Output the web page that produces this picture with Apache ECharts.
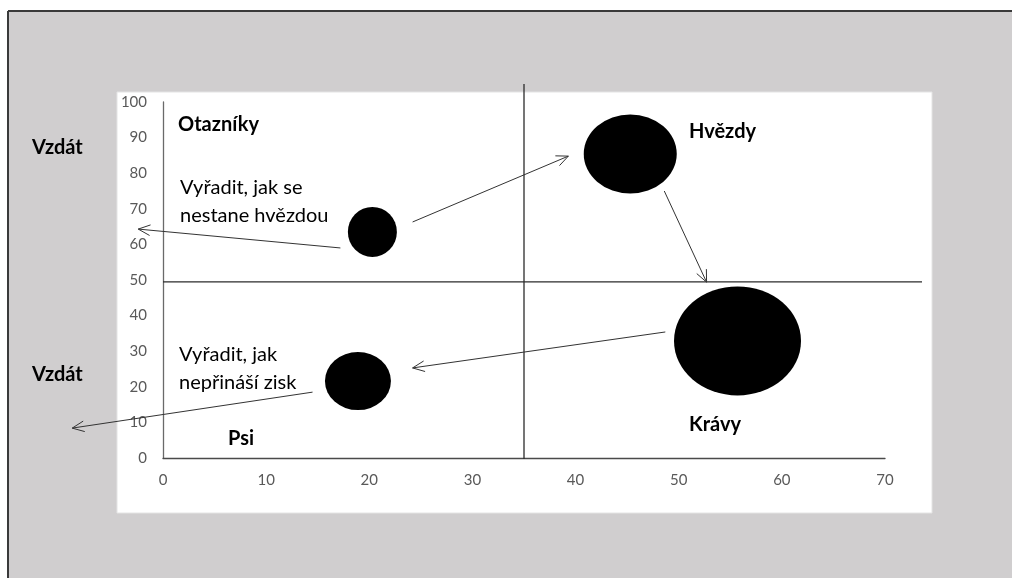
<!DOCTYPE html>
<html>
<head>
<meta charset="utf-8">
<script src="https://cdn.jsdelivr.net/npm/echarts@6/dist/echarts.min.js"></script>
<style>
  html, body { margin: 0; padding: 0; background: #ffffff; }
  #chart { width: 1012px; height: 578px; }
</style>
</head>
<body>
<div id="chart"></div>
<script>
// BCG matrix: relative market share (x) against market growth (y)
const names = ['Otazníky', 'Hvězdy', 'Krávy', 'Psi'];
const shareX = [20.3, 45.3, 55.7, 18.9];
const growthY = [63.5, 85.4, 32.9, 21.6];

const xTicks = [0, 10, 20, 30, 40, 50, 60, 70];
const yTicks = [0, 10, 20, 30, 40, 50, 60, 70, 80, 90, 100];

// quadrant dividers
const splitX = 35;
const splitY = 49.5;

// movement arrows between quadrants, start and end points
const arrowFrom = [[24.2, 66.3], [48.6, 75.0], [48.7, 35.4], [17.2, 59.0], [14.5, 18.5]];
const arrowTo   = [[39.3, 84.8], [52.7, 49.4], [24.2, 25.3], [-2.4, 64.3], [-8.8, 8.4]];

// ---- styling ----
const FONT = 'Lato, "Open Sans", sans-serif';
const TICK_COLOR = '#595959';
const LINE_COLOR = '#2b2b2b';
// ellipse width / height of each bubble, in pixels
const bubblePx = [[49, 50], [93, 79], [127, 109], [66, 58]];

const bubbles = names.map((n, i) => ({
  name: n,
  value: [shareX[i], growthY[i]],
  symbolSize: bubblePx[i]
}));

const arrows = arrowFrom.map((a, i) => [a[0], a[1], arrowTo[i][0], arrowTo[i][1]]);

function renderArrow(params, api) {
  const p0 = api.coord([api.value(0), api.value(1)]);
  const p1 = api.coord([api.value(2), api.value(3)]);
  const ang = Math.atan2(p1[1] - p0[1], p1[0] - p0[0]);
  const len = 13, spread = 0.42;
  const h1 = [p1[0] - len * Math.cos(ang - spread), p1[1] - len * Math.sin(ang - spread)];
  const h2 = [p1[0] - len * Math.cos(ang + spread), p1[1] - len * Math.sin(ang + spread)];
  return {
    type: 'group',
    children: [
      { type: 'line', shape: { x1: p0[0], y1: p0[1], x2: p1[0], y2: p1[1] },
        style: { stroke: '#333', lineWidth: 1 } },
      { type: 'polyline', shape: { points: [h1, p1, h2] },
        style: { stroke: '#333', lineWidth: 1, fill: null } }
    ]
  };
}

function renderQuadrants(params, api) {
  const xv = api.value(0), yv = api.value(1);
  const top = api.coord([xv, yTicks[yTicks.length - 1]]);
  const bottom = api.coord([xv, yTicks[0]]);
  const left = api.coord([xTicks[0], yv]);
  const right = api.coord([xTicks[xTicks.length - 1], yv]);
  return {
    type: 'group',
    children: [
      { type: 'line', shape: { x1: top[0], y1: top[1] - 18, x2: bottom[0], y2: bottom[1] + 1 },
        style: { stroke: LINE_COLOR, lineWidth: 1.3 } },
      { type: 'line', shape: { x1: left[0], y1: left[1], x2: right[0] + 37, y2: right[1] },
        style: { stroke: LINE_COLOR, lineWidth: 1.3 } }
    ]
  };
}

function txt(text, x, y, bold, size) {
  return {
    type: 'text', x: x, y: y, z: 50,
    style: {
      text: text, fill: '#000',
      font: (bold ? 'bold ' : '') + size + 'px ' + FONT,
      verticalAlign: 'middle', lineHeight: 28
    }
  };
}

const chart = echarts.init(document.getElementById('chart'), null, { renderer: 'canvas' });

chart.setOption({
  backgroundColor: '#ffffff',
  animation: false,
  graphic: [
    { type: 'rect', z: -20, shape: { x: 8, y: 11, width: 1004, height: 567 },
      style: { fill: '#d0cecf' } },
    { type: 'line', z: -19, shape: { x1: 8, y1: 11, x2: 1012, y2: 11 },
      style: { stroke: '#3a3a3a', lineWidth: 2 } },
    { type: 'line', z: -19, shape: { x1: 8, y1: 11, x2: 8, y2: 578 },
      style: { stroke: '#3a3a3a', lineWidth: 2 } },
    { type: 'rect', z: -18, shape: { x: 117, y: 92, width: 815, height: 421 },
      style: { fill: '#ffffff', stroke: '#e4e4e4', lineWidth: 1 } },
    txt('Otazníky', 178, 125, true, 20),
    txt('Hvězdy', 689, 132, true, 20),
    txt('Krávy', 689, 425, true, 20),
    txt('Psi', 228, 439, true, 20),
    txt('Vzdát', 32, 148, true, 20),
    txt('Vzdát', 32, 375, true, 20),
    txt('Vyřadit, jak se\nnestane hvězdou', 180, 202, false, 20),
    txt('Vyřadit, jak\nnepřináší zisk', 179, 369, false, 20)
  ],
  grid: { left: 163, right: 127, top: 102, bottom: 120, containLabel: false, outerBoundsMode: 'none' },
  xAxis: {
    type: 'value', min: xTicks[0], max: xTicks[xTicks.length - 1], interval: 10,
    axisLine: { show: true, lineStyle: { color: '#4a4a4a', width: 1.3 } },
    axisTick: { show: false },
    splitLine: { show: false },
    axisLabel: { color: TICK_COLOR, fontSize: 15, fontFamily: FONT, margin: 15 }
  },
  yAxis: {
    type: 'value', min: yTicks[0], max: yTicks[yTicks.length - 1], interval: 10,
    axisLine: { show: true, lineStyle: { color: '#6a6a6a', width: 1.3 } },
    axisTick: { show: false },
    splitLine: { show: false },
    axisLabel: { color: TICK_COLOR, fontSize: 15, fontFamily: FONT, margin: 16 }
  },
  series: [
    {
      type: 'custom', name: 'quadrants', clip: false, silent: true, z: 3,
      renderItem: renderQuadrants,
      data: [[splitX, splitY]]
    },
    {
      type: 'scatter', name: 'portfolio', symbol: 'circle', z: 4,
      itemStyle: { color: '#000000', opacity: 1 },
      data: bubbles
    },
    {
      type: 'custom', name: 'arrows', clip: false, silent: true, z: 5,
      renderItem: renderArrow,
      encode: { x: [0, 2], y: [1, 3] },
      data: arrows
    }
  ]
});
</script>
</body>
</html>
